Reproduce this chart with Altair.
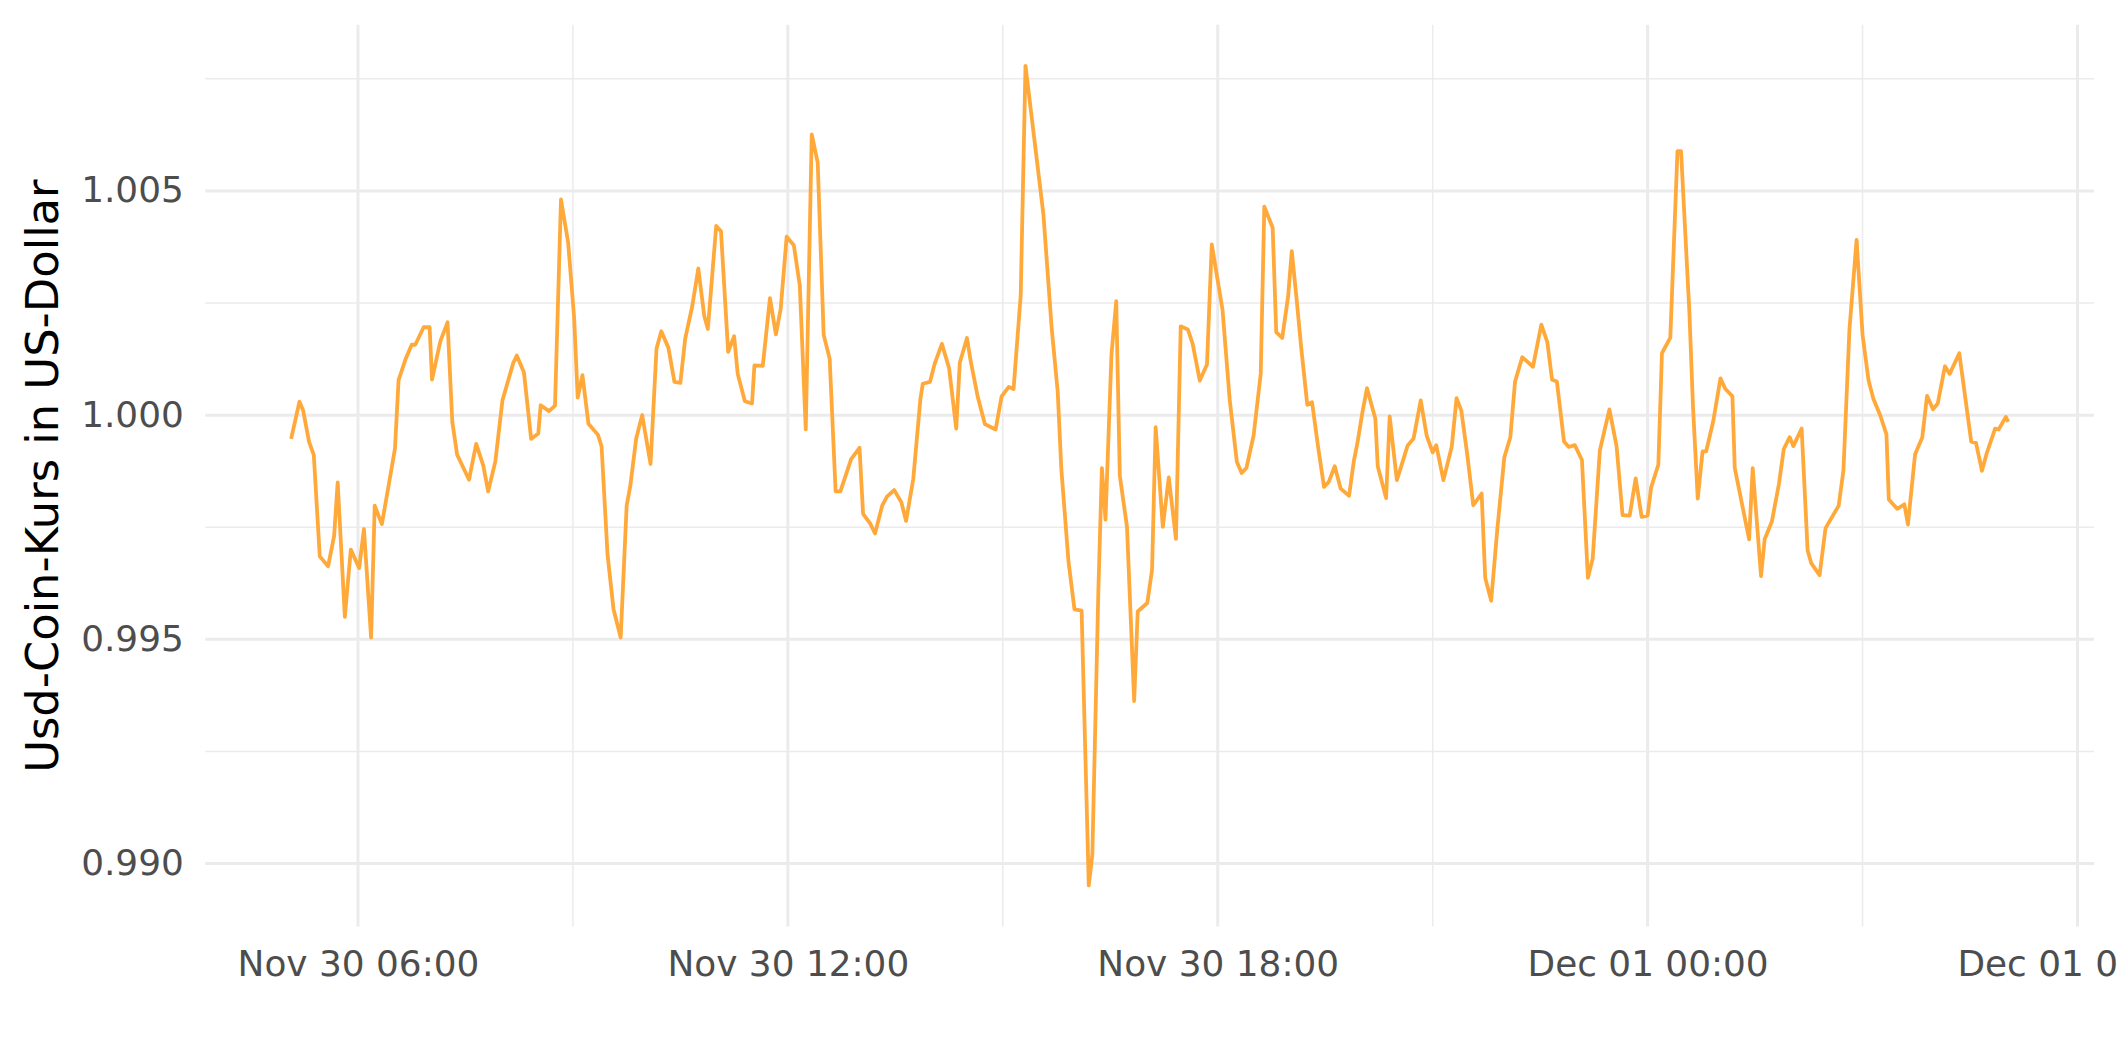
import altair as alt
import pandas as pd

# minutes after Nov 30 00:00
minutes = [304, 311, 314, 319, 323, 328, 335, 340, 343, 349,
           354, 361, 365, 371, 374, 380, 386, 391, 394, 400,
           405, 408, 415, 420, 422, 429, 435, 439, 443, 453,
           459, 465, 469, 475, 481, 490, 493, 499, 505, 511,
           513, 520, 525, 530, 536, 541, 544, 548, 553, 561,
           564, 569, 574, 580, 585, 588, 593, 598, 605, 610,
           614, 620, 625, 630, 634, 640, 645, 650, 653, 660,
           664, 670, 675, 678, 684, 690, 692, 699, 705, 710,
           714, 719, 725, 730, 735, 740, 745, 750, 755, 760,
           764, 773, 780, 783, 789, 793, 799, 803, 809, 815,
           819, 825, 831, 833, 839, 843, 849, 855, 861, 864,
           870, 873, 879, 885, 894, 899, 905, 909, 915, 919,
           934, 941, 946, 949, 955, 960, 966, 972, 975, 980,
           983, 986, 991, 995, 998, 1004, 1010, 1013, 1021, 1025,
           1028, 1034, 1039, 1045, 1049, 1055, 1059, 1065, 1071, 1075,
           1084, 1090, 1096, 1100, 1104, 1110, 1116, 1119, 1126, 1129,
           1134, 1139, 1142, 1146, 1150, 1155, 1159, 1164, 1169, 1173,
           1178, 1183, 1190, 1194, 1197, 1201, 1205, 1212, 1214, 1221,
           1224, 1230, 1233, 1239, 1244, 1250, 1255, 1260, 1263, 1269,
           1276, 1280, 1284, 1289, 1294, 1301, 1304, 1309, 1314, 1320,
           1325, 1329, 1335, 1344, 1351, 1356, 1360, 1364, 1370, 1374,
           1379, 1385, 1390, 1394, 1400, 1408, 1414, 1419, 1425, 1430,
           1435, 1440, 1443, 1449, 1452, 1459, 1465, 1468, 1475, 1478,
           1482, 1486, 1489, 1495, 1501, 1505, 1511, 1513, 1525, 1528,
           1535, 1538, 1544, 1550, 1554, 1559, 1562, 1569, 1574, 1577,
           1584, 1589, 1600, 1604, 1609, 1615, 1620, 1625, 1629, 1635,
           1640, 1642, 1649, 1655, 1658, 1664, 1670, 1674, 1679, 1683,
           1689, 1693, 1701, 1711, 1715, 1720, 1724, 1731, 1734, 1740,
           1742]

price = [0.99947, 1.00030, 1.00011, 0.99941, 0.99911, 0.99685, 0.99663, 0.99730, 0.99850, 0.99550,
         0.99700, 0.99659, 0.99746, 0.99504, 0.99798, 0.99757, 0.99848, 0.99926, 1.00078, 1.00126,
         1.00157, 1.00157, 1.00196, 1.00196, 1.00079, 1.00165, 1.00207, 0.99985, 0.99912, 0.99856,
         0.99936, 0.99887, 0.99830, 0.99896, 1.00033, 1.00116, 1.00133, 1.00095, 0.99947, 0.99959,
         1.00022, 1.00009, 1.00021, 1.00481, 1.00385, 1.00218, 1.00039, 1.00089, 0.99981, 0.99956,
         0.99930, 0.99689, 0.99567, 0.99504, 0.99798, 0.99841, 0.99948, 1.00000, 0.99891, 1.00148,
         1.00187, 1.00150, 1.00074, 1.00072, 1.00170, 1.00244, 1.00327, 1.00221, 1.00192, 1.00422,
         1.00410, 1.00141, 1.00176, 1.00092, 1.00031, 1.00026, 1.00111, 1.00110, 1.00261, 1.00180,
         1.00237, 1.00398, 1.00379, 1.00289, 0.99968, 1.00626, 1.00563, 1.00179, 1.00126, 0.99830,
         0.99830, 0.99902, 0.99927, 0.99780, 0.99758, 0.99736, 0.99798, 0.99818, 0.99833, 0.99806,
         0.99764, 0.99857, 1.00036, 1.00070, 1.00074, 1.00115, 1.00159, 1.00105, 0.99970, 1.00117,
         1.00172, 1.00122, 1.00041, 0.99980, 0.99968, 1.00042, 1.00063, 1.00058, 1.00267, 1.00779,
         1.00448, 1.00192, 1.00052, 0.99881, 0.99674, 0.99567, 0.99564, 0.98951, 0.99020, 0.99605,
         0.99882, 0.99767, 1.00135, 1.00254, 0.99865, 0.99751, 0.99362, 0.99562, 0.99581, 0.99655,
         0.99973, 0.99751, 0.99861, 0.99724, 1.00198, 1.00191, 1.00159, 1.00077, 1.00113, 1.00381,
         1.00235, 1.00035, 0.99896, 0.99871, 0.99882, 0.99954, 1.00092, 1.00465, 1.00418, 1.00185,
         1.00172, 1.00266, 1.00366, 1.00260, 1.00148, 1.00023, 1.00029, 0.99930, 0.99840, 0.99851,
         0.99886, 0.99836, 0.99820, 0.99898, 0.99938, 1.00004, 1.00060, 0.99992, 0.99886, 0.99815,
         0.99997, 0.99855, 0.99880, 0.99932, 0.99948, 1.00033, 0.99954, 0.99917, 0.99933, 0.99855,
         0.99930, 1.00038, 1.00010, 0.99911, 0.99799, 0.99825, 0.99637, 0.99586, 0.99742, 0.99906,
         0.99950, 1.00075, 1.00129, 1.00108, 1.00202, 1.00163, 1.00079, 1.00075, 0.99941, 0.99929,
         0.99933, 0.99900, 0.99637, 0.99680, 0.99921, 1.00013, 0.99931, 0.99777, 0.99776, 0.99859,
         0.99773, 0.99776, 0.99839, 0.99890, 1.00138, 1.00173, 1.00589, 1.00589, 1.00229, 1.00019,
         0.99814, 0.99919, 0.99919, 0.99987, 1.00082, 1.00059, 1.00042, 0.99882, 0.99723, 0.99882,
         0.99641, 0.99723, 0.99762, 0.99847, 0.99924, 0.99951, 0.99931, 0.99970, 0.99698, 0.99670,
         0.99643, 0.99748, 0.99798, 0.99877, 1.00190, 1.00391, 1.00179, 1.00078, 1.00037, 0.99998,
         0.99957, 0.99812, 0.99791, 0.99801, 0.99756, 0.99913, 0.99950, 1.00043, 1.00013, 1.00026,
         1.00109, 1.00092, 1.00138, 0.99941, 0.99938, 0.99876, 0.99915, 0.99970, 0.99968, 0.99996,
         0.99985]

y_major = [0.990, 0.995, 1.000, 1.005]
y_minor = [0.9925, 0.9975, 1.0025, 1.0075]
x_major_hours = [6, 12, 18, 24, 30]
x_minor_hours = [9, 15, 21, 27]

y_title = "Usd-Coin-Kurs in US-Dollar"

start = pd.Timestamp("2022-11-30 00:00")
df = pd.DataFrame({"t": start + pd.to_timedelta(minutes, unit="m"), "v": price})


def dt(ts):
    return alt.DateTime(year=int(ts.year), month=int(ts.month), date=int(ts.day),
                        hours=int(ts.hour), minutes=int(ts.minute), seconds=int(ts.second))


tmin, tmax = df["t"].min(), df["t"].max()
tpad = (tmax - tmin) * 0.05
vmin, vmax = min(price), max(price)
vpad = (vmax - vmin) * 0.05

x_scale = alt.Scale(domain=[dt(tmin - tpad), dt(tmax + tpad)], nice=False)
y_scale = alt.Scale(domain=[vmin - vpad, vmax + vpad], nice=False, zero=False)

x_axis = alt.Axis(
    values=[dt(start + pd.Timedelta(hours=h)) for h in x_major_hours],
    format="%b %d %H:%M", labelFontSize=36, labelColor="#4D4D4D",
    labelFont="DejaVu Sans", ticks=False, domain=False, grid=False,
    labelPadding=21, title=None, labelFlush=False, labelOverlap=False,
    labelLimit=0,
)
y_axis = alt.Axis(
    values=y_major, format=".3f", labelFontSize=36, labelColor="#4D4D4D",
    labelFont="DejaVu Sans", ticks=False, domain=False, grid=False,
    labelPadding=22, title=y_title, titleFontSize=45, titleFont="DejaVu Sans",
    titleFontWeight="normal", titleColor="#000000", titleX=-148.5, titleY=452.5,
    titleBaseline="alphabetic", titleAlign="center", labelLimit=0,
)

GRID = "#EBEBEB"

xmin_df = pd.DataFrame({"t": [start + pd.Timedelta(hours=h) for h in x_minor_hours]})
xmaj_df = pd.DataFrame({"t": [start + pd.Timedelta(hours=h) for h in x_major_hours]})
ymin_df = pd.DataFrame({"v": y_minor})
ymaj_df = pd.DataFrame({"v": y_major})

x_minor_rules = alt.Chart(xmin_df).mark_rule(color=GRID, strokeWidth=1.5).encode(
    x=alt.X("t:T", scale=x_scale, axis=x_axis))
y_minor_rules = alt.Chart(ymin_df).mark_rule(color=GRID, strokeWidth=1.5).encode(
    y=alt.Y("v:Q", scale=y_scale, axis=y_axis))
x_major_rules = alt.Chart(xmaj_df).mark_rule(color=GRID, strokeWidth=3).encode(
    x=alt.X("t:T", scale=x_scale, axis=x_axis))
y_major_rules = alt.Chart(ymaj_df).mark_rule(color=GRID, strokeWidth=3).encode(
    y=alt.Y("v:Q", scale=y_scale, axis=y_axis))

line = alt.Chart(df).mark_line(color="#FFA93A", strokeWidth=3.8, strokeJoin="round").encode(
    x=alt.X("t:T", scale=x_scale, axis=x_axis),
    y=alt.Y("v:Q", scale=y_scale, axis=y_axis),
)

chart = alt.layer(x_minor_rules, y_minor_rules, x_major_rules, y_major_rules, line).properties(
    width=1896, height=905,
    padding={"left": 198, "top": 15, "right": 23, "bottom": 100},
    autosize=alt.AutoSizeParams(type="none"),
    background="white",
).configure_view(stroke=None)

chart.save("out.html", embed_options={"renderer": "svg", "actions": False})
